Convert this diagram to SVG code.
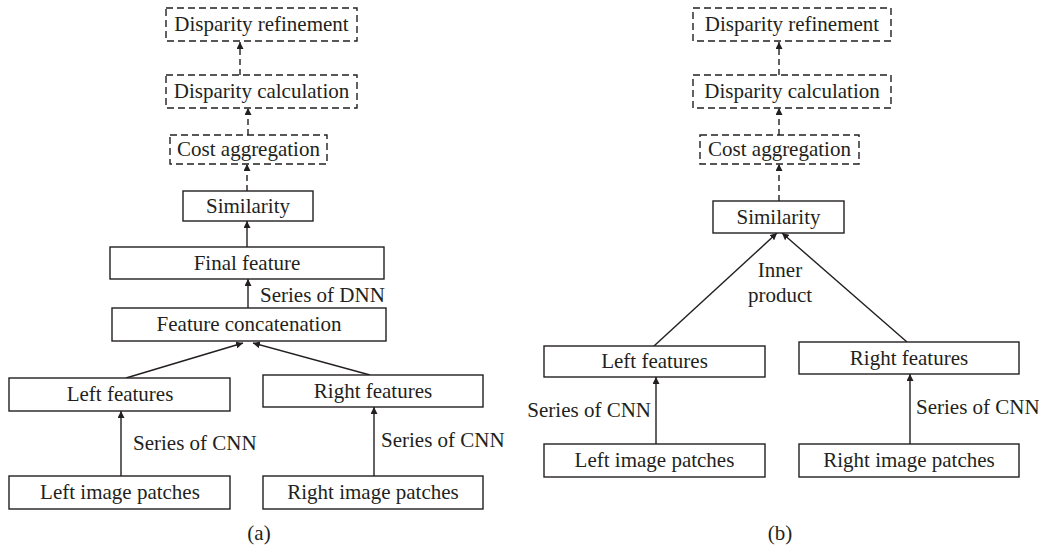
<svg xmlns="http://www.w3.org/2000/svg" width="1039" height="546" viewBox="0 0 1039 546">
<defs>
<marker id="ah" viewBox="0 0 10 10" refX="10" refY="5" markerWidth="7" markerHeight="7" markerUnits="userSpaceOnUse" orient="auto">
<path d="M0,0 L10,5 L0,10 z" fill="#231f20"/>
</marker>
<style>
.box{fill:#fff;stroke:#231f20;stroke-width:1.4}
.dbox{fill:#fff;stroke:#231f20;stroke-width:1.4;stroke-dasharray:7 4}
.t{font-family:"Liberation Serif",serif;font-size:21px;fill:#231f20;text-anchor:middle}
.l{font-family:"Liberation Serif",serif;font-size:21px;fill:#231f20}
.c{stroke:#231f20;stroke-width:1.4;fill:none;marker-end:url(#ah)}
.dc{stroke:#231f20;stroke-width:1.4;fill:none;stroke-dasharray:6 4;marker-end:url(#ah)}
</style>
</defs>
<rect width="1039" height="546" fill="#fff"/>
<g id="connectors">
<line class="dc" x1="240" y1="75" x2="240" y2="42"/>
<line class="dc" x1="248" y1="135" x2="248" y2="108"/>
<line class="dc" x1="247" y1="191" x2="247" y2="164"/>
<line class="c" x1="247" y1="247" x2="247" y2="221"/>
<line class="c" x1="248" y1="308" x2="248" y2="279"/>
<line class="c" x1="126" y1="378" x2="243" y2="343"/>
<line class="c" x1="370" y1="375" x2="253" y2="343"/>
<line class="c" x1="121" y1="476" x2="121" y2="411"/>
<line class="c" x1="374" y1="476" x2="374" y2="407"/>
<line class="dc" x1="779" y1="75" x2="779" y2="42"/>
<line class="dc" x1="779" y1="135" x2="779" y2="108"/>
<line class="dc" x1="779" y1="201" x2="779" y2="164"/>
<line class="c" x1="654" y1="346" x2="777" y2="233"/>
<line class="c" x1="907" y1="342" x2="782" y2="233"/>
<line class="c" x1="656" y1="444" x2="656" y2="377"/>
<line class="c" x1="910" y1="444" x2="910" y2="374"/>
<text class="l" x="260" y="302">Series of DNN</text>
<text class="l" x="133" y="450">Series of CNN</text>
<text class="l" x="381" y="447">Series of CNN</text>
<text class="t" x="780" y="277">Inner</text>
<text class="t" x="780" y="302">product</text>
<text class="l" x="651" y="417" text-anchor="end">Series of CNN</text>
<text class="l" x="916" y="414">Series of CNN</text>
</g>
<g id="a-refine"><rect class="dbox" x="166" y="8" width="191" height="33"/><text class="t" x="261.5" y="31">Disparity refinement</text></g>
<g id="a-calc"><rect class="dbox" x="166" y="75" width="191" height="33"/><text class="t" x="261.5" y="98">Disparity calculation</text></g>
<g id="a-cost"><rect class="dbox" x="170" y="135" width="157" height="29"/><text class="t" x="248.5" y="156">Cost aggregation</text></g>
<g id="a-sim"><rect class="box" x="183" y="191" width="130" height="30"/><text class="t" x="248" y="213">Similarity</text></g>
<g id="a-final"><rect class="box" x="110" y="247" width="274" height="32"/><text class="t" x="247" y="270">Final feature</text></g>
<g id="a-concat"><rect class="box" x="112" y="308" width="274" height="33"/><text class="t" x="249" y="331">Feature concatenation</text></g>
<g id="a-left"><rect class="box" x="9" y="378" width="221" height="33"/><text class="t" x="120" y="401">Left features</text></g>
<g id="a-right"><rect class="box" x="263" y="375" width="220" height="32"/><text class="t" x="373" y="398">Right features</text></g>
<g id="a-leftimg"><rect class="box" x="9" y="476" width="221" height="33"/><text class="t" x="120" y="499">Left image patches</text></g>
<g id="a-rightimg"><rect class="box" x="263" y="476" width="220" height="33"/><text class="t" x="373" y="499">Right image patches</text></g>
<text class="t" x="259" y="540">(a)</text>
<g id="b-refine"><rect class="dbox" x="693" y="8" width="198" height="33"/><text class="t" x="792" y="31">Disparity refinement</text></g>
<g id="b-calc"><rect class="dbox" x="693" y="75" width="198" height="33"/><text class="t" x="792" y="98">Disparity calculation</text></g>
<g id="b-cost"><rect class="dbox" x="700" y="135" width="159" height="29"/><text class="t" x="779.5" y="156">Cost aggregation</text></g>
<g id="b-sim"><rect class="box" x="713" y="201" width="131" height="32"/><text class="t" x="778.5" y="224">Similarity</text></g>
<g id="b-left"><rect class="box" x="544" y="346" width="221" height="31"/><text class="t" x="654.5" y="368">Left features</text></g>
<g id="b-right"><rect class="box" x="799" y="342" width="220" height="32"/><text class="t" x="909" y="365">Right features</text></g>
<g id="b-leftimg"><rect class="box" x="544" y="444" width="221" height="33"/><text class="t" x="654.5" y="467">Left image patches</text></g>
<g id="b-rightimg"><rect class="box" x="799" y="444" width="220" height="33"/><text class="t" x="909" y="467">Right image patches</text></g>
<text class="t" x="780" y="540">(b)</text>
</svg>
